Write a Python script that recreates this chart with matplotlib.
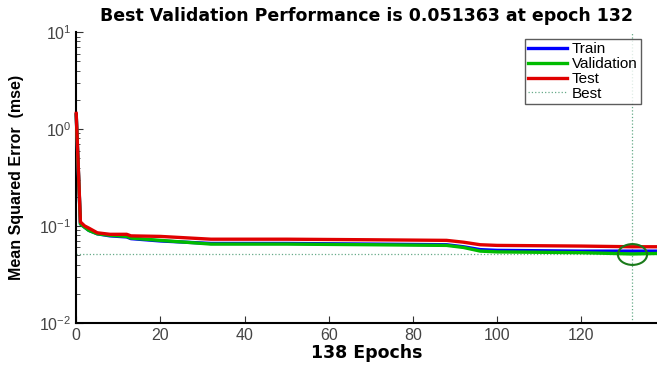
import numpy as np
import matplotlib.pyplot as plt
from matplotlib.path import Path

# valores
epochs = [0, 1, 2, 3, 5, 8, 12, 13, 20, 32, 50, 70, 88, 92, 96, 100, 120, 132, 138]
train = [1.40, 0.105, 0.097, 0.090, 0.083, 0.079, 0.077, 0.074, 0.070, 0.066, 0.066, 0.065, 0.064, 0.061, 0.057, 0.056, 0.055, 0.055, 0.055]
validation = [1.40, 0.105, 0.097, 0.090, 0.083, 0.080, 0.078, 0.075, 0.071, 0.065, 0.065, 0.064, 0.063, 0.060, 0.055, 0.054, 0.053, 0.0514, 0.052]
test = [1.45, 0.110, 0.100, 0.095, 0.085, 0.082, 0.082, 0.079, 0.078, 0.073, 0.073, 0.072, 0.071, 0.068, 0.064, 0.063, 0.062, 0.061, 0.061]
best_epoch = 132
best_perf = 0.051363
n_epochs = 138

plt.rcParams['font.family'] = ['Liberation Sans', 'DejaVu Sans']

fig = plt.figure(figsize=(6.57, 3.69), dpi=100)
ax = fig.add_axes([0.116, 0.125, 0.884, 0.788])

ax.plot(epochs, train, color='#0000ff', lw=2.4, label='Train', zorder=3, clip_on=False)
ax.plot(epochs, validation, color='#00bb00', lw=2.4, label='Validation', zorder=3, clip_on=False)
ax.plot(epochs, test, color='#e00000', lw=2.4, label='Test', zorder=3, clip_on=False)
ax.axhline(best_perf, color='#66aa88', lw=0.9, ls=':', label='Best')
ax.axvline(best_epoch, color='#66aa88', lw=0.9, ls=':')

# circulo ovalado como en matlab
circ = Path.unit_circle()
oval = Path(circ.vertices * [1.4, 1.0], circ.codes)
ax.plot([best_epoch], [best_perf], marker=oval, ls='none', mfc='none', mec='#1a7a1a', ms=21, mew=1.5, zorder=4)

ax.set_yscale('log')
ax.set_ylim(1e-2, 1e1)
ax.set_xlim(0, n_epochs)
ax.set_xticks([0, 20, 40, 60, 80, 100, 120])
ax.tick_params(direction='in', which='both', labelsize=11.5, colors='#333333', length=5)
ax.tick_params(which='minor', length=3)
for lab in ax.get_xticklabels() + ax.get_yticklabels():
    lab.set_color('#444444')
ax.spines['top'].set_visible(False)
ax.spines['right'].set_visible(False)
ax.spines['left'].set_linewidth(1.5)
ax.spines['bottom'].set_linewidth(1.5)

ax.set_title('Best Validation Performance is 0.051363 at epoch 132', fontsize=12.5,
             fontweight='bold', family='DejaVu Sans', pad=8)
ax.set_xlabel('138 Epochs', fontsize=12.5, fontweight='bold', family='DejaVu Sans', labelpad=1)
ax.set_ylabel('Mean Squared Error  (mse)', fontsize=11.5, fontweight='bold',
              family=['Liberation Sans Narrow', 'Liberation Sans'])
ax.yaxis.set_label_coords(-0.09, 0.5)

leg = ax.legend(loc='upper right', bbox_to_anchor=(0.972, 0.975), fontsize=11, fancybox=False,
                edgecolor='#333333', handlelength=2.6, borderpad=0.2, labelspacing=0.05,
                handletextpad=0.3, borderaxespad=0)
leg.get_frame().set_linewidth(1.0)

fig.savefig('out.png')
